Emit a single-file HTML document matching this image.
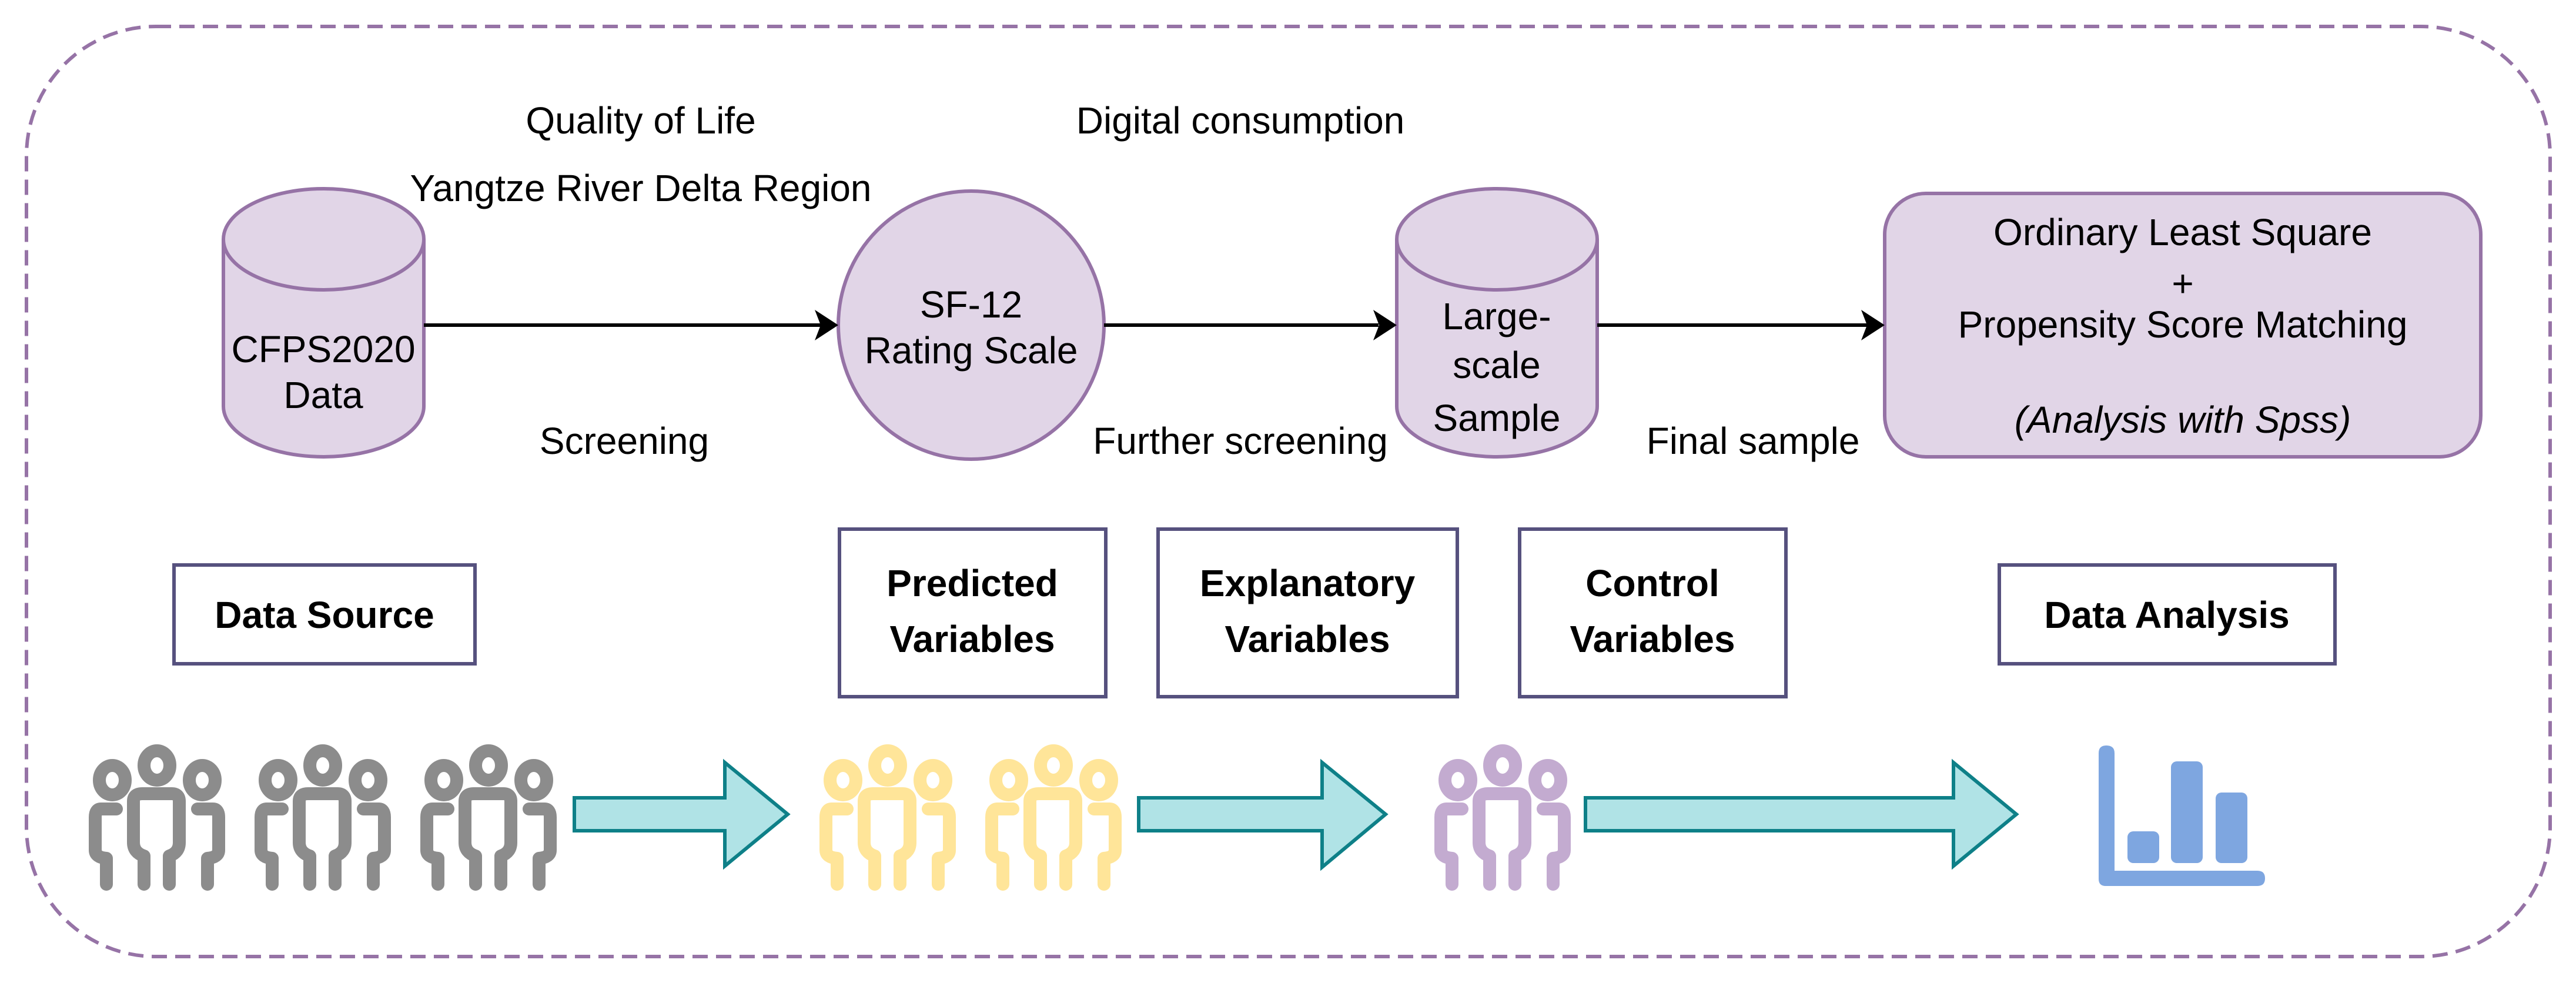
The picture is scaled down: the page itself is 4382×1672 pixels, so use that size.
<!DOCTYPE html>
<html><head><meta charset="utf-8"><style>
html,body{margin:0;padding:0;background:#fff;}
svg{display:block;}
text{font-family:"Liberation Sans",Arial,sans-serif;font-size:64px;fill:#000;}
.b{font-weight:bold;font-size:64px;}
</style></head><body>
<svg width="4382" height="1672" viewBox="0 0 4382 1672" xmlns="http://www.w3.org/2000/svg">
<defs>
<g id="ppl">
  <ellipse cx="115" cy="34" rx="22" ry="25" fill="none" stroke-width="22"/>
  <ellipse cx="39" cy="59" rx="22" ry="25" fill="none" stroke-width="22"/>
  <ellipse cx="192" cy="59" rx="22" ry="25" fill="none" stroke-width="22"/>
  <path d="M93,236 V188 Q75,182 75,165 V95 Q75,82 90,82 H140 Q153,82 153,95 V165 Q153,182 136,188 V236" fill="none" stroke-width="22" stroke-linecap="round" stroke-linejoin="round"/>
  <path d="M46,108 H20 Q10,108 10,122 V178 Q10,190 29,192 V236" fill="none" stroke-width="22" stroke-linecap="round" stroke-linejoin="round"/>
  <path d="M184,108 H210 Q220,108 220,122 V178 Q220,190 201,192 V236" fill="none" stroke-width="22" stroke-linecap="round" stroke-linejoin="round"/>
</g>
</defs>
<rect x="45" y="45" width="4293" height="1582" rx="220" ry="220" fill="none" stroke="#9673a6" stroke-width="6" stroke-dasharray="26 14"/>

<path d="M380,407 V691 A170.5,86 0 0 0 721,691 V407" fill="#e1d5e7" stroke="#9673a6" stroke-width="6"/>
<ellipse cx="550.5" cy="407" rx="170.5" ry="86" fill="#e1d5e7" stroke="#9673a6" stroke-width="6"/>
<text x="550" y="616" text-anchor="middle">CFPS2020</text>
<text x="550" y="694" text-anchor="middle">Data</text>

<ellipse cx="1652" cy="553" rx="226" ry="228" fill="#e1d5e7" stroke="#9673a6" stroke-width="6"/>
<text x="1652" y="540" text-anchor="middle">SF-12</text>
<text x="1652" y="618" text-anchor="middle">Rating Scale</text>

<path d="M2376,407 V691 A170.5,86 0 0 0 2717,691 V407" fill="#e1d5e7" stroke="#9673a6" stroke-width="6"/>
<ellipse cx="2546.5" cy="407" rx="170.5" ry="86" fill="#e1d5e7" stroke="#9673a6" stroke-width="6"/>
<text x="2546" y="560" text-anchor="middle">Large-</text>
<text x="2546" y="643" text-anchor="middle">scale</text>
<text x="2546" y="733" text-anchor="middle">Sample</text>

<rect x="3206" y="329" width="1014" height="448" rx="70" ry="70" fill="#e1d5e7" stroke="#9673a6" stroke-width="6"/>
<text x="3713" y="417" text-anchor="middle">Ordinary Least Square</text>
<text x="3713" y="504" text-anchor="middle">+</text>
<text x="3713" y="574" text-anchor="middle">Propensity Score Matching</text>
<text x="3713" y="736" text-anchor="middle" font-style="italic">(Analysis with Spss)</text>

<g stroke="#000" stroke-width="6" fill="none">
<line x1="721" y1="553" x2="1400" y2="553"/>
<line x1="1878" y1="553" x2="2345" y2="553"/>
<line x1="2717" y1="553" x2="3178" y2="553"/>
</g>
<g fill="#000">
<path d="M1426,553 L1386,527 L1396,553 L1386,579 Z"/>
<path d="M2376,553 L2336,527 L2346,553 L2336,579 Z"/>
<path d="M3206,553 L3166,527 L3176,553 L3166,579 Z"/>
</g>

<text x="1090" y="227" text-anchor="middle">Quality of Life</text>
<text x="1090" y="342" text-anchor="middle">Yangtze River Delta Region</text>
<text x="2110" y="227" text-anchor="middle">Digital consumption</text>
<text x="1062" y="772" text-anchor="middle">Screening</text>
<text x="2110" y="772" text-anchor="middle">Further screening</text>
<text x="2982" y="772" text-anchor="middle">Final sample</text>

<g fill="#fff" stroke="#56517e" stroke-width="6">
<rect x="296" y="961" width="512" height="168"/>
<rect x="1428" y="900" width="453" height="285"/>
<rect x="1970" y="900" width="509" height="285"/>
<rect x="2585" y="900" width="453" height="285"/>
<rect x="3401" y="961" width="571" height="168"/>
</g>
<text class="b" x="552" y="1068" text-anchor="middle">Data Source</text>
<text class="b" x="1654" y="1014" text-anchor="middle">Predicted</text>
<text class="b" x="1654" y="1109" text-anchor="middle">Variables</text>
<text class="b" x="2224" y="1014" text-anchor="middle">Explanatory</text>
<text class="b" x="2224" y="1109" text-anchor="middle">Variables</text>
<text class="b" x="2811" y="1014" text-anchor="middle">Control</text>
<text class="b" x="2811" y="1109" text-anchor="middle">Variables</text>
<text class="b" x="3686" y="1068" text-anchor="middle">Data Analysis</text>

<g stroke="#8c8c8c"><use href="#ppl" x="152" y="1268"/><use href="#ppl" x="434" y="1268"/><use href="#ppl" x="716" y="1268"/></g>
<g stroke="#ffe599"><use href="#ppl" x="1395" y="1268"/><use href="#ppl" x="1677" y="1268"/></g>
<g stroke="#c3abd0"><use href="#ppl" x="2441" y="1268"/></g>

<g fill="#b0e3e6" stroke="#0e8088" stroke-width="6" stroke-linejoin="miter">
<path d="M977,1357 H1233 V1297 L1340,1385 L1233,1473 V1413 H977 Z"/>
<path d="M1937,1357 H2249 V1297 L2357,1385 L2249,1475 V1413 H1937 Z"/>
<path d="M2697,1357 H3323 V1297 L3430,1385 L3323,1473 V1413 H2697 Z"/>
</g>

<g fill="#7ea6e0">
<path d="M3570,1281 Q3570,1268 3583,1268 Q3597,1268 3597,1281 V1481 H3840 Q3853,1481 3853,1494 Q3853,1507 3840,1507 H3582 Q3570,1507 3570,1495 Z"/>
<rect x="3619" y="1414" width="54" height="54" rx="10"/>
<rect x="3693" y="1295" width="54" height="173" rx="10"/>
<rect x="3769" y="1348" width="54" height="120" rx="10"/>
</g>
</svg>
</body></html>
